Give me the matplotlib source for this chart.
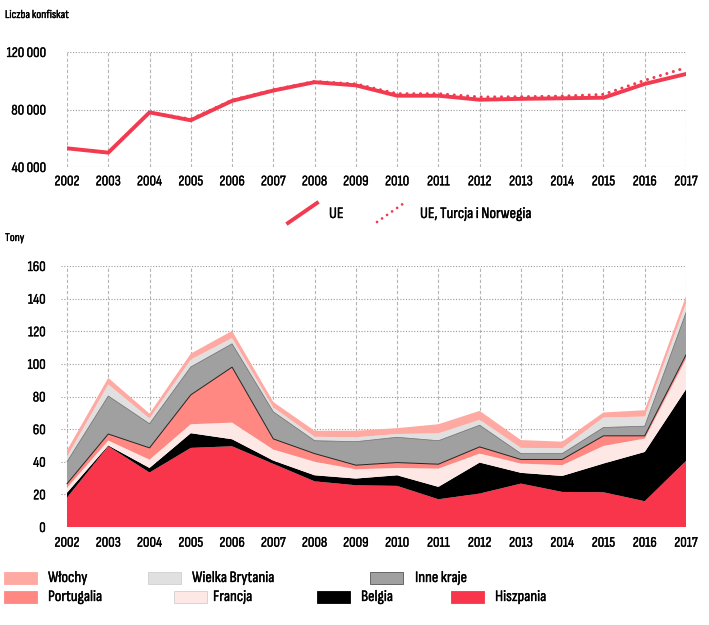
import numpy as np
import matplotlib.pyplot as plt
import matplotlib.patheffects as pe
from matplotlib.patches import Rectangle
from matplotlib.lines import Line2D

plt.rcParams['font.family'] = ['Sofia Sans Condensed', 'DejaVu Sans']
thick = [pe.withStroke(linewidth=0.25, foreground='black')]

years = list(range(2002, 2018))

# seizures (count)
ue = [53000, 50000, 78000, 72500, 86000, 93200, 99000, 96800, 89600, 89600,
      86800, 87400, 87800, 88200, 97800, 104700]
ue_tr_no = [53000, 50000, 78000, 73300, 86500, 93700, 99500, 97800, 91000, 91000,
            88700, 88900, 89300, 90500, 100300, 109100]

# tonnes, cumulative tops, converted to layer values below
top_hiszpania = [18, 49.5, 33.4, 48.5, 49.5, 38.7, 28, 25.6, 25.2, 17, 20.5, 26.6, 21.5, 21.3, 15.8, 40.5]
top_belgia = [21, 50, 36.2, 57.5, 53.8, 40.7, 31.7, 29.7, 31.7, 24.6, 39.5, 33.2, 31.3, 38.9, 46, 84.4]
top_francja = [24, 53, 41.3, 63, 64, 47.5, 40, 35.4, 36.2, 35.8, 45, 38.9, 37.9, 49.7, 54.2, 103]
top_portugalia = [26.5, 57, 48.5, 81, 98, 54, 45, 37.9, 39.5, 38.5, 49.1, 41.4, 41.4, 55.9, 55.9, 105.5]
top_inne = [40, 80.3, 63.3, 98.1, 112.3, 70.6, 52.9, 52.3, 55, 52.9, 62.4, 45, 45, 61, 61.8, 131.4]
top_wb = [43, 87.4, 66.5, 102.6, 115.8, 73.2, 55.3, 55, 57, 57.4, 65.7, 48.5, 48.3, 67.1, 67.7, 137]
top_wlochy = [47, 91.4, 69.5, 106.3, 120.2, 76.6, 59, 59, 60.6, 63, 71.2, 53.3, 52.3, 70.2, 71.6, 141.5]

names = ['Hiszpania', 'Belgia', 'Francja', 'Portugalia', 'Inne kraje', 'Wielka Brytania', 'Włochy']
colors = ['#F8354B', '#000000', '#FDE8E6', '#FF8882', '#A0A0A0', '#E0E0E0', '#FFA9A3']
tops = [top_hiszpania, top_belgia, top_francja, top_portugalia, top_inne, top_wb, top_wlochy]
layers = [np.array(tops[0])] + [np.array(tops[i]) - np.array(tops[i - 1]) for i in range(1, len(tops))]

red = '#F23A50'
fs_tick = 10.5
fs_leg = 11.5
fs_title = 8.5
fig = plt.figure(figsize=(7.09, 6.25), dpi=100)


def word(x, y, s, size):
    fig.text(x / 709, 1 - y / 625, s, fontsize=size, va='center', ha='left', path_effects=thick)


# ---------- top chart ----------
ax1 = fig.add_axes([67 / 709, 1 - 167 / 625, 619 / 709, 115 / 625])
ax1.set_xlim(2002, 2017)
ax1.set_ylim(40000, 120000)
for y in [40000, 80000, 120000]:
    ax1.axhline(y, color='#9a9a9a', lw=0.8, ls=(0, (1, 1.5)), zorder=0)
for x in years:
    ax1.axvline(x, color='#b5b5b5', lw=0.8, ls=(0, (3, 2)), zorder=0)
ax1.plot(years, ue, color=red, lw=2.8, solid_capstyle='round', zorder=3)
ax1.plot(years, ue_tr_no, color=red, lw=2.2, ls=(0, (0.01, 2.2)), dash_capstyle='round', zorder=2)
ax1.set_xticks(years)
ax1.set_yticks([40000, 80000, 120000])
ax1.set_yticklabels(['40 000', '80 000', '120 000'])
ax1.tick_params(length=0, labelsize=fs_tick)
ax1.tick_params(axis='y', pad=15)
ax1.tick_params(axis='x', pad=6)
for s in ax1.spines.values():
    s.set_visible(False)

word(5, 15, 'Liczba konfiskat', fs_title)

# top legend
fig.add_artist(Line2D([288 / 709, 317 / 709], [1 - 223 / 625, 1 - 203 / 625], color=red, lw=2.8))
word(329, 214, 'UE', fs_leg)
fig.add_artist(Line2D([377 / 709, 407 / 709], [1 - 222 / 625, 1 - 201 / 625], color=red, lw=2.0,
                      ls=(0, (0.01, 2.2)), dash_capstyle='round'))
word(420, 214, 'UE, Turcja i Norwegia', fs_leg)

# ---------- bottom chart ----------
ax2 = fig.add_axes([61 / 709, 1 - 527 / 625, 625 / 709, 261 / 625])
ax2.set_xlim(2002 - 6 / 41.27, 2017)
ax2.set_ylim(0, 160)
for y in range(0, 161, 20):
    ax2.axhline(y, color='#9a9a9a', lw=0.8, ls=(0, (1, 1.5)), zorder=0)
for x in years:
    ax2.axvline(x, color='#b5b5b5', lw=0.8, ls=(0, (3, 2)), zorder=0)
polys = ax2.stackplot(years, *layers, colors=colors, lw=0, zorder=2)
ax2.plot(years, top_portugalia, color='#222222', lw=0.7, zorder=3)
ax2.plot(years, top_inne, color='#666666', lw=0.5, zorder=3)
ax2.set_xticks(years)
ax2.set_yticks(range(0, 161, 20))
ax2.tick_params(length=0, labelsize=fs_tick)
ax2.tick_params(axis='y', pad=11)
ax2.tick_params(axis='x', pad=7)
for s in ax2.spines.values():
    s.set_visible(False)

for ax in (ax1, ax2):
    for t in ax.get_xticklabels() + ax.get_yticklabels():
        t.set_path_effects(thick)

word(5, 238, 'Tony', fs_title)

# bottom legend
legend_pos = {
    'Włochy': (4, 578, 48),
    'Wielka Brytania': (148, 578, 192),
    'Inne kraje': (370, 578, 415),
    'Portugalia': (4, 597, 48),
    'Francja': (174, 597, 213),
    'Belgia': (317, 597, 361),
    'Hiszpania': (451, 597, 495),
}
for name, col in zip(names, colors):
    px, py, tx = legend_pos[name]
    edge = '#555555' if name == 'Inne kraje' else '#cfcfcf' if name in ('Wielka Brytania', 'Francja') else col
    fig.add_artist(Rectangle((px / 709, 1 - (py + 6) / 625), 33 / 709, 12 / 625,
                             facecolor=col, edgecolor=edge, lw=0.6, transform=fig.transFigure))
    word(tx, py, name, fs_leg)

fig.savefig('out.png', dpi=100)
